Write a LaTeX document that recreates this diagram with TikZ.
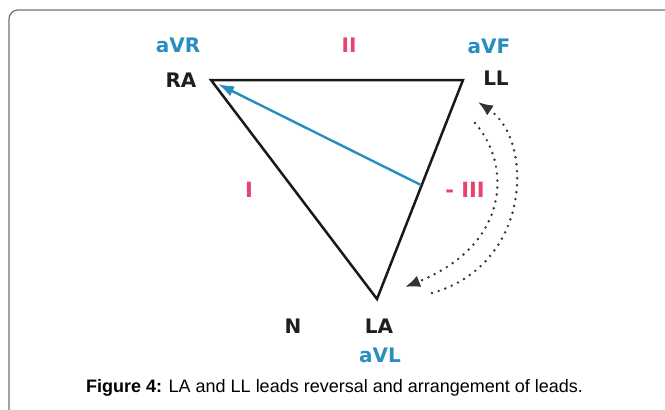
\documentclass[tikz,border=0pt]{standalone}
\usepackage{fontspec}
\setmainfont{Liberation Sans}
\newfontfamily\labelfont{DejaVu Sans}
\usetikzlibrary{arrows.meta}
\definecolor{leadblue}{HTML}{2A8DBF}
\definecolor{leadred}{HTML}{E6436E}
\definecolor{framegray}{HTML}{707070}
\begin{document}
\begin{tikzpicture}[x=1pt,y=-1pt,
  lbl/.style={inner sep=0pt, font=\labelfont\bfseries\fontsize{20}{20}\selectfont},
  blk/.style={lbl, text=black!88},
  blu/.style={lbl, text=leadblue},
  rd/.style={lbl, text=leadred},
  rdbig/.style={rd, font=\labelfont\bfseries\fontsize{21}{21}\selectfont},
  side/.style={line width=2.5pt, line join=miter, black!90},
  bluearrow/.style={leadblue, line width=2.4pt, -{Latex[length=16pt,width=11pt]}},
  dots/.style={line width=2.7pt, dash pattern=on 0pt off 7pt, line cap=round, black!80, -{Latex[length=15pt,width=12pt]}},
  caption/.style={inner sep=0pt, anchor=base, font=\fontsize{18}{18}\selectfont}
]
\useasboundingbox (0,0) rectangle (665,410);
\begin{scope}
  \clip (0,0) rectangle (665,410);
  \draw[framegray, line width=1.2pt, rounded corners=9pt] (9,10) rectangle (720,470);
\end{scope}

% triangle corners
\coordinate (RAc) at (211,80);
\coordinate (LLc) at (463,80);
\coordinate (LAc) at (377,299);
\coordinate (Mid) at (421,185);
\coordinate (RAtip) at (218,84);

\draw[side] (RAc) -- (LLc) -- (LAc) -- cycle;
\draw[bluearrow] (Mid) -- (RAtip);

% dotted arrows
\coordinate (InS) at (475,123);
\coordinate (InE) at (405,287);
\coordinate (OutS) at (432,293);
\coordinate (OutE) at (478,102);
\draw[dots] (InS) .. controls (512,165) and (510,245) .. (InE);
\draw[dots] (OutS) .. controls (532,265) and (534,140) .. (OutE);

% labels
\node[blu] (aVR) at (178,45) {aVR};
\node[rd]  (II)  at (349,45) {II};
\node[blu] (aVF) at (489,46) {aVF};
\node[blk] (RA)  at (181,80) {RA};
\node[blk] (LL)  at (496,78) {LL};
\node[rdbig] (I) at (249,190) {I};
\node[rdbig] (III) at (465,190) {- III};
\node[blk] (N)   at (293,326) {N};
\node[blk] (LA)  at (379,326) {LA};
\node[blu] (aVL) at (380,355) {aVL};

\node[caption] (cap) at (334.5,392) {\textbf{Figure 4:} LA and LL leads reversal and arrangement of leads.};
\end{tikzpicture}
\end{document}
